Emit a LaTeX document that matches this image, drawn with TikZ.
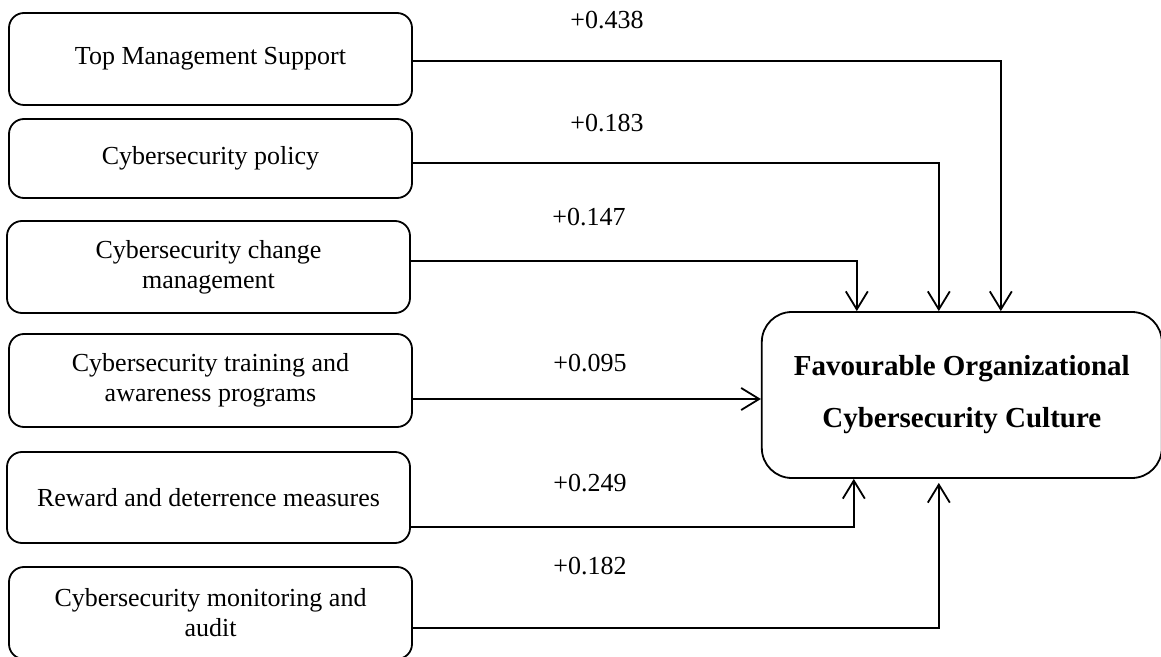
\documentclass[tikz,border=0pt]{standalone}
\usepackage{fontspec}
\setmainfont{Liberation Serif}
\usetikzlibrary{positioning}
\usetikzlibrary{arrows.meta}

\tikzset{
  factor/.style={draw, line width=0.9pt, rounded corners=7.5pt, align=center,
    minimum width=201.5pt, inner sep=2pt,
    font=\fontsize{13pt}{15pt}\selectfont},
  outcome/.style={draw, line width=0.9pt, rounded corners=15pt, align=center,
    minimum width=200pt, minimum height=83pt,
    font=\fontsize{14.5pt}{26pt}\selectfont\bfseries},
  coef/.style={inner sep=0pt, font=\fontsize{13pt}{15pt}\selectfont},
  link/.style={line width=0.9pt, -{Straight Barb[length=9pt, width=11pt]}}
}

\begin{document}
\begin{tikzpicture}
\useasboundingbox (0,0) rectangle (580.5pt,-328.5pt);
% Define nodes
\node[factor, minimum height=46pt] (top) at (105.25pt,-29.5pt) {Top Management Support};
\node[factor, minimum height=39.5pt, below=6.1pt of top] (policy) {Cybersecurity policy};
\node[factor, minimum height=46pt, below=10.6pt of policy, xshift=-1pt] (change) {Cybersecurity change\\ management};
\node[factor, minimum height=46.5pt, below=9.6pt of change, xshift=1pt] (training) {Cybersecurity training and\\ awareness programs};
\node[factor, minimum height=45.5pt, below=11.6pt of training, xshift=-1pt] (reward) {Reward and deterrence measures};
\node[factor, minimum height=46pt, below=11.1pt of reward, xshift=1pt] (audit) {Cybersecurity monitoring and\\ audit};
\node[outcome, right=174pt of training, yshift=-7.25pt] (culture) {Favourable Organizational\\ Cybersecurity Culture};

% Coefficients
\node[coef] (c-top) at (303.5pt,-10pt) {+0.438};
\node[coef] (c-policy) at (303.5pt,-61.5pt) {+0.183};
\node[coef] (c-change) at (294.5pt,-108.5pt) {+0.147};
\node[coef] (c-training) at (295pt,-181.5pt) {+0.095};
\node[coef] (c-reward) at (295pt,-241.5pt) {+0.249};
\node[coef] (c-audit) at (295pt,-283pt) {+0.182};

% Edges
\draw[link] ([yshift=-1pt]top.east) -| ([xshift=19.5pt]culture.north);
\draw[link] ([yshift=-2.25pt]policy.east) -| ([xshift=-11.5pt]culture.north);
\draw[link] ([yshift=3pt]change.east) -| ([xshift=-52.5pt]culture.north);
\draw[link] ([yshift=-9.25pt]training.east) -- ([yshift=-9.25pt]training.east -| culture.west);
\draw[link] ([yshift=-14.75pt]reward.east) -| ([xshift=-54pt]culture.south);
\draw[link, shorten >=2pt] ([yshift=-7.5pt]audit.east) -| ([xshift=-11.5pt]culture.south);
\end{tikzpicture}
\end{document}
